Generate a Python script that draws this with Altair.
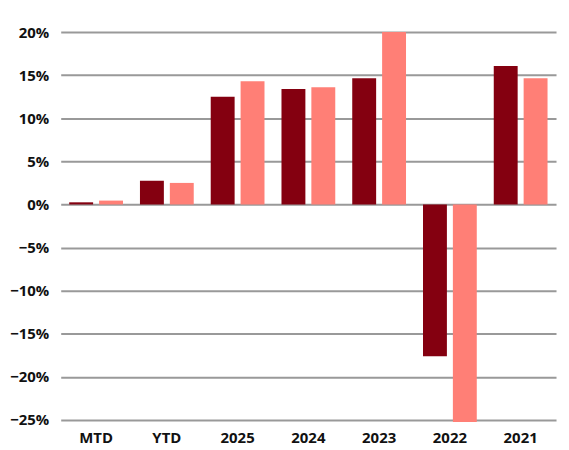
import altair as alt
import pandas as pd

categories = ["MTD", "YTD", "2025", "2024", "2023", "2022", "2021"]
series_a = [0.25, 2.75, 12.5, 13.4, 14.65, -17.6, 16.05]
series_b = [0.45, 2.5, 14.3, 13.6, 20.0, -25.25, 14.65]
series_names = ["Fund", "Benchmark"]
colors = ["#840010", "#FF7F76"]

rows = []
for c, a, b in zip(categories, series_a, series_b):
    rows.append({"cat": c, "series": series_names[0], "value": a / 100})
    rows.append({"cat": c, "series": series_names[1], "value": b / 100})
df = pd.DataFrame(rows)

font = "Open Sans"

chart = alt.Chart(df).mark_bar().encode(
    x=alt.X("cat:N", sort=categories, title=None,
            scale=alt.Scale(paddingInner=0.24, paddingOuter=0.12),
            axis=alt.Axis(labelAngle=0, ticks=False, domain=False, grid=False,
                          labelFont=font, labelFontSize=15, labelFontWeight="bold",
                          labelColor="#111111", labelPadding=11)),
    xOffset=alt.XOffset("series:N", sort=series_names,
                        scale=alt.Scale(paddingInner=0.2, paddingOuter=0)),
    y=alt.Y("value:Q", title=None,
            scale=alt.Scale(domain=[-0.25, 0.20], nice=False),
            axis=alt.Axis(format=".0%", values=[-0.25, -0.2, -0.15, -0.1, -0.05, 0, 0.05, 0.1, 0.15, 0.2],
                          ticks=False, domain=False, grid=True,
                          gridColor="#999999", gridWidth=2,
                          labelFont=font, labelFontSize=15, labelFontWeight="bold",
                          labelColor="#111111", labelPadding=12)),
    color=alt.Color("series:N", sort=series_names,
                    scale=alt.Scale(domain=series_names, range=colors), legend=None),
).properties(
    width=498, height=390,
    autosize=alt.AutoSizeParams(type="none"),
    padding={"left": 53, "top": 23, "right": 5, "bottom": 30},
).configure_view(stroke=None)

chart.save("out.html", embed_options={"renderer": "svg", "actions": False})
